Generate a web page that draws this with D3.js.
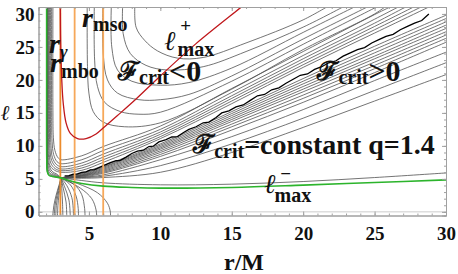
<!DOCTYPE html>
<html>
<head>
<meta charset="utf-8">
<script src="https://cdn.jsdelivr.net/npm/d3@7/dist/d3.min.js"></script>
<style>
  body { margin: 0; background: #fff; }
  #chart, #chart text, #chart tspan { font-family: "Liberation Serif", "Times New Roman", serif !important; font-weight: bold; }
</style>
</head>
<body>
<svg id="chart" width="458" height="274"></svg>
<script>
// tick labels
const xTicks = [5, 10, 15, 20, 25, 30];
const yTicks = [0, 5, 10, 15, 20, 25, 30];
// r_gamma, r_mbo, r_mso
const radii = [3, 4, 6];

// l+max (red) and l-max (green), [r, l]
const ellPlus = [[3.0,32],[3.02,26],[3.1,20],[3.2,16.5],[3.4,13.5],[3.7,11.9],[4.2,11.1],[4.8,11.1],[5.5,11.8],[6.1,12.9],[7,14.6],[8.3,17.1],[10,20.6],[12.5,25.5],[15.7,31.1],[16.2,32]];
const ellMinus = [[2.04,32],[2.04,20],[2.05,8],[2.08,6.2],[2.2,5.55],[2.5,5.35],[3.05,5.15],[3.6,4.75],[4.5,4.3],[6,3.9],[8,3.7],[10,3.6],[15,3.7],[20,4.05],[25,4.45],[30,4.85]];

// numerically noisy F_crit = 0 contour
const zeroLine = [[3.3,5.45],[3.6,5.5],[3.9,5.7],[4.2,5.75],[4.5,6.0],[4.8,6.05],[5.1,6.35],[5.4,6.4],[5.8,6.8],[6.1,7.1],[6.5,7.45],[6.9,7.75],[7.2,7.8],[7.6,8.3],[8.0,8.85],[8.4,9.2],[8.8,9.35],[9.2,9.9],[9.5,9.95],[9.9,10.6],[10.4,10.95],[10.8,11.35],[11.2,11.4],[11.6,12.0],[12.0,12.5],[12.5,12.9],[13.0,13.5],[13.4,13.6],[13.9,14.3],[14.3,15.0],[14.8,15.3],[15.3,15.9],[15.8,16.2],[16.3,16.9],[16.8,17.6],[17.3,17.8],[17.8,18.5],[18.3,18.8],[18.8,19.5],[19.3,20.1],[19.8,20.7],[20.3,20.9],[20.8,21.6],[21.3,22.0],[21.8,22.6],[22.3,22.9],[22.8,23.6],[23.3,24.1],[23.8,24.6],[24.3,24.9],[24.8,25.6],[25.3,26.1],[25.8,26.6],[26.3,26.9],[26.8,27.6],[27.3,28.1],[27.8,28.6],[28.3,29.0],[28.8,30.0]];

// F_crit > 0 fan out of the point (3.05, 5.15): l at fanR
const fanR = [3.05, 4.5, 6, 10, 15, 20, 25, 30];
const lowerFan = [
  [5.15, 4.75, 4.4, 4.1, 4.2, 4.6, 5.2, 5.9],
  [5.15, 5.1, 5.2, 6.0, 9.0, 12.8, 16.8, 20.8],
  [5.15, 5.2, 5.4, 7.0, 10.3, 14.2, 18.4, 22.6],
  [5.15, 5.25, 5.6, 7.9, 11.4, 15.5, 19.9, 24.2],
  [5.15, 5.3, 5.85, 8.4, 12.4, 16.6, 21.1, 25.7],
  [5.15, 5.4, 6.0, 8.7, 12.9, 17.2, 21.7, 26.3],
  [5.15, 5.45, 6.15, 9.0, 13.3, 17.7, 22.2, 26.8],
  [5.15, 5.5, 6.3, 9.25, 13.7, 18.2, 22.7, 27.3],
  [5.15, 5.55, 6.45, 9.5, 14.0, 18.6, 23.2, 27.8],
  [5.15, 5.6, 6.6, 9.7, 14.3, 19.0, 23.6, 28.3],
  [5.15, 5.7, 6.75, 9.9, 14.6, 19.4, 24.1, 28.8],
  [5.15, 5.8, 6.85, 10.1, 14.9, 19.8, 24.6, 29.3],
  [5.15, 5.9, 7.0, 10.3, 15.2, 20.2, 25.1, 29.8]
];

// F_crit < 0 lines leaving the horizon cluster, [r, l]
const upperFan = [
  [[2.13,32],[2.13,14],[2.16,8.8],[2.28,7.0],[2.6,6.3],[3.05,6.0],[4.5,6.3],[6,7.5],[10,11.1],[15,16.4],[20,21.9],[25,27.1],[30,32.3]],
  [[2.18,32],[2.18,14],[2.21,9.2],[2.33,7.4],[2.64,6.55],[3.05,6.25],[4.5,6.65],[6,7.9],[10,11.4],[15,16.8],[20,22.3],[25,27.6],[30,32.9]],
  [[2.24,32],[2.24,14],[2.27,9.6],[2.39,7.8],[2.68,6.85],[3.05,6.5],[4.5,7.0],[6,8.3],[10,11.75],[15,17.2],[20,22.75],[25,28.1],[30,33.5]],
  [[2.31,32],[2.31,14],[2.34,10.1],[2.45,8.2],[2.72,7.2],[3.05,6.85],[4.5,7.4],[6,8.75],[10,12.1],[15,17.6],[20,23.2],[25,28.6],[28,32]],
  [[2.39,32],[2.39,15],[2.42,10.7],[2.53,8.7],[2.77,7.6],[3.05,7.3],[4.5,7.9],[6,9.3],[10,12.5],[15,18.1],[20,23.7],[25,29.2],[27.5,32]],
  [[2.48,32],[2.48,15],[2.51,11.3],[2.62,9.3],[2.84,8.2],[3.05,7.9],[4.5,8.5],[6,9.9],[10,13.0],[15,18.7],[20,24.3],[25,29.9],[27,32]]
];

// F_crit < 0 lines coming down from the top
const uCurves = [
  [[4.88,32],[4.9,22],[5.0,18],[5.3,15.2],[6,13.6],[7.5,12.9],[10,13.5],[15,18.6],[20,24.6],[25,30],[26,31.5]],
  [[5.38,32],[5.4,23],[5.6,19],[6.1,16.6],[7.2,15.2],[8.5,14.8],[10,15.1],[15,19.8],[20,25.4],[25,30.9],[26,32]],
  [[5.98,32],[6.0,24],[6.3,20],[7,18],[8.5,17.0],[10,17.0],[12,17.8],[15,20.6],[20,26.2],[25,31.6]],
  [[6.58,32],[6.6,25],[7.0,21.5],[8,19.8],[10,19.2],[12,19.6],[15,21.8],[20,27.2],[24,31.5]],
  [[7.38,32],[7.4,27],[7.9,24],[9,22.2],[10.5,21.5],[13,22],[16,24.3],[20,28.0],[23,31.3]],
  [[8.23,32],[8.3,28],[8.9,26],[9.8,24.4],[11.2,23.3],[13,23.4],[16,25.6],[20,29.1],[22,31.5]]
];

// lines hugging the horizon into (3.05, 5.15)
const cornerLines = [
  [[2.055,32],[2.055,7.5],[2.09,6.0],[2.22,5.5],[2.55,5.3],[3.05,5.15]],
  [[2.07,32],[2.07,8],[2.1,6.3],[2.26,5.65],[2.62,5.38],[3.05,5.15]],
  [[2.085,32],[2.085,9],[2.12,6.6],[2.3,5.8],[2.7,5.45],[3.05,5.15]],
  [[2.1,32],[2.1,10],[2.14,7.0],[2.35,6.0],[2.75,5.55],[3.05,5.15]],
  [[2.115,32],[2.115,11],[2.15,7.5],[2.4,6.2],[2.8,5.65],[3.05,5.15]]
];

// lines from (3.05, 5.15) down to l = 0
const belowLines = [
  [[3.05,5.15],[2.9,4],[2.7,2.5],[2.55,1],[2.45,-1]],
  [[3.05,5.15],[2.93,4],[2.76,2.5],[2.63,1],[2.56,-1]],
  [[3.05,5.15],[2.96,4],[2.83,2.5],[2.72,1],[2.67,-1]],
  [[3.05,5.15],[3.0,4],[2.9,2.5],[2.83,1],[2.8,-1]],
  [[3.05,5.15],[3.1,3.5],[3.15,1.5],[3.18,-1]],
  [[3.05,5.15],[3.2,3.6],[3.4,1.5],[3.45,-1]],
  [[3.05,5.15],[3.3,3.8],[3.6,1.8],[3.7,-1]],
  [[3.05,5.15],[3.45,4.0],[3.8,2.2],[3.9,0.5],[3.92,-1]],
  [[3.05,5.15],[3.7,4.1],[4.1,2.4],[4.25,0.5],[4.27,-1]],
  [[3.05,5.15],[4.0,4.1],[4.5,2.6],[4.7,0.5],[4.73,-1]],
  [[3.05,5.15],[4.4,3.6],[5.2,2.0],[5.5,0.3],[5.55,-1]],
  [[3.05,5.15],[4.2,4.3],[5.6,2.9],[6.3,1.3],[6.5,0],[6.5,-1]]
];

const svg = d3.select("#chart");
const x = d3.scaleLinear().domain([1.47, 30]).range([38.5, 446]);
const y = d3.scaleLinear().domain([-0.55, 31.05]).range([215.5, 7]);

svg.append("defs").append("clipPath").attr("id", "plot")
  .append("rect")
  .attr("x", x.range()[0]).attr("y", y.range()[1])
  .attr("width", x.range()[1] - x.range()[0])
  .attr("height", y.range()[0] - y.range()[1]);

const line = d3.line()
  .x(d => x(d[0]))
  .y(d => y(d[1]))
  .curve(d3.curveCatmullRom.alpha(0.5));

const g = svg.append("g").attr("clip-path", "url(#plot)");

// l = 0 axis
g.append("line")
  .attr("x1", x.range()[0]).attr("x2", x.range()[1])
  .attr("y1", y(0)).attr("y2", y(0))
  .attr("stroke", "#ccc");

const contours = []
  .concat(lowerFan.map(row => row.map((v, i) => [fanR[i], v])))
  .concat(upperFan, uCurves, cornerLines, belowLines);

g.selectAll("path.contour")
  .data(contours)
  .enter().append("path")
  .attr("class", "contour")
  .attr("d", line)
  .attr("fill", "none")
  .attr("stroke", "#505050")
  .attr("stroke-width", 0.8);

g.append("path")
  .datum(zeroLine)
  .attr("d", d3.line().x(d => x(d[0])).y(d => y(d[1])))
  .attr("fill", "none")
  .attr("stroke", "#000")
  .attr("stroke-width", 1.3);

g.selectAll("line.radius")
  .data(radii)
  .enter().append("line")
  .attr("class", "radius")
  .attr("x1", d => x(d)).attr("x2", d => x(d))
  .attr("y1", y.range()[0]).attr("y2", y.range()[1])
  .attr("stroke", (d, i) => i == 0 ? "#ec8c2c" : "#f6a85a")
  .attr("stroke-width", 1.8);

g.append("path")
  .datum(ellMinus)
  .attr("d", line)
  .attr("fill", "none")
  .attr("stroke", "#2cb42c")
  .attr("stroke-width", 1.6);

g.append("path")
  .datum(ellPlus)
  .attr("d", line)
  .attr("fill", "none")
  .attr("stroke", "#c0181c")
  .attr("stroke-width", 1.3);

// frame with inward ticks on all sides
const frame = svg.append("g").attr("class", "frame");
const styleAxis = sel => {
  sel.attr("font-family", null).attr("font-size", null);
  sel.select(".domain").attr("stroke", "#a0a0a0");
  sel.selectAll(".tick line").attr("stroke", "#a0a0a0");
  sel.selectAll(".tick text")
    .style("font-size", "19px")
    .attr("fill", "#111");
};
const minorX = d3.range(2, 31);
const minorY = d3.range(0, 31);

frame.append("g").attr("transform", `translate(0,${y.range()[0]})`)
  .call(d3.axisBottom(x).tickValues(minorX).tickSize(-2).tickFormat(""))
  .call(styleAxis);
frame.append("g").attr("transform", `translate(0,${y.range()[0]})`)
  .call(d3.axisBottom(x).tickValues(xTicks).tickSizeInner(-4).tickSizeOuter(0).tickPadding(6))
  .call(styleAxis)
  .selectAll(".tick text").attr("dy", "0.95em");
frame.append("g").attr("transform", `translate(0,${y.range()[1]})`)
  .call(d3.axisTop(x).tickValues(minorX).tickSize(-2).tickFormat(""))
  .call(styleAxis);
frame.append("g").attr("transform", `translate(0,${y.range()[1]})`)
  .call(d3.axisTop(x).tickValues(xTicks).tickSize(-4).tickFormat(""))
  .call(styleAxis);
frame.append("g").attr("transform", `translate(${x.range()[0]},0)`)
  .call(d3.axisLeft(y).tickValues(minorY).tickSize(-2).tickFormat(""))
  .call(styleAxis);
frame.append("g").attr("transform", `translate(${x.range()[0]},0)`)
  .call(d3.axisLeft(y).tickValues(yTicks).tickSizeInner(-4).tickSizeOuter(0).tickPadding(4))
  .call(styleAxis);
frame.append("g").attr("transform", `translate(${x.range()[1]},0)`)
  .call(d3.axisRight(y).tickValues(minorY).tickSize(-2).tickFormat(""))
  .call(styleAxis);
frame.append("g").attr("transform", `translate(${x.range()[1]},0)`)
  .call(d3.axisRight(y).tickValues(yTicks).tickSize(-4).tickFormat(""))
  .call(styleAxis);

// text helper: one text element built from styled runs
const label = (px, py, parts, anchor) => {
  const t = svg.append("text")
    .attr("x", px).attr("y", py)
    .attr("fill", "#111")
    .attr("text-anchor", anchor || "start");
  parts.forEach(p => {
    t.append("tspan")
      .style("font-size", p.size + "px")
      .style("font-style", p.italic ? "italic" : "normal")
      .attr("dy", p.dy || 0)
      .text(p.s);
  });
};
const note = (r, l, parts) => label(x(r), y(l), parts);

// axis titles
label(244, 270, [{ s: "r/M", size: 24 }], "middle");
label(1, 120, [{ s: "ℓ", size: 21, italic: true }]);

// annotations
note(4.52, 28.0, [{ s: "r", size: 28, italic: true }, { s: "mso", size: 20, dy: 4 }]);
note(2.2, 24.1, [{ s: "r", size: 28, italic: true }, { s: "γ", size: 19, italic: true, dy: 5 }]);
note(2.28, 21.2, [{ s: "r", size: 28, italic: true }, { s: "mbo", size: 20, dy: 6 }]);

note(7.04, 20.0, [{ s: "ℱ", size: 26 }, { s: "crit", size: 20, dy: 4 }, { s: "<0", size: 30, dy: -3 }]);
note(21.0, 20.0, [{ s: "ℱ", size: 26 }, { s: "crit", size: 20, dy: 4 }, { s: ">0", size: 30, dy: -3 }]);
note(12.3, 8.9, [{ s: "ℱ", size: 26 }, { s: "crit", size: 20, dy: 5 }, { s: "=constant q=1.4", size: 28, dy: -4 }]);

note(10.3, 24.5, [{ s: "ℓ", size: 27, italic: true }]);
note(11.4, 27.2, [{ s: "+", size: 19 }]);
note(11.2, 23.6, [{ s: "max", size: 20 }]);
note(17.3, 2.9, [{ s: "ℓ", size: 27, italic: true }]);
note(18.4, 4.9, [{ s: "−", size: 19 }]);
note(18.0, 1.5, [{ s: "max", size: 20 }]);
</script>
</body>
</html>
